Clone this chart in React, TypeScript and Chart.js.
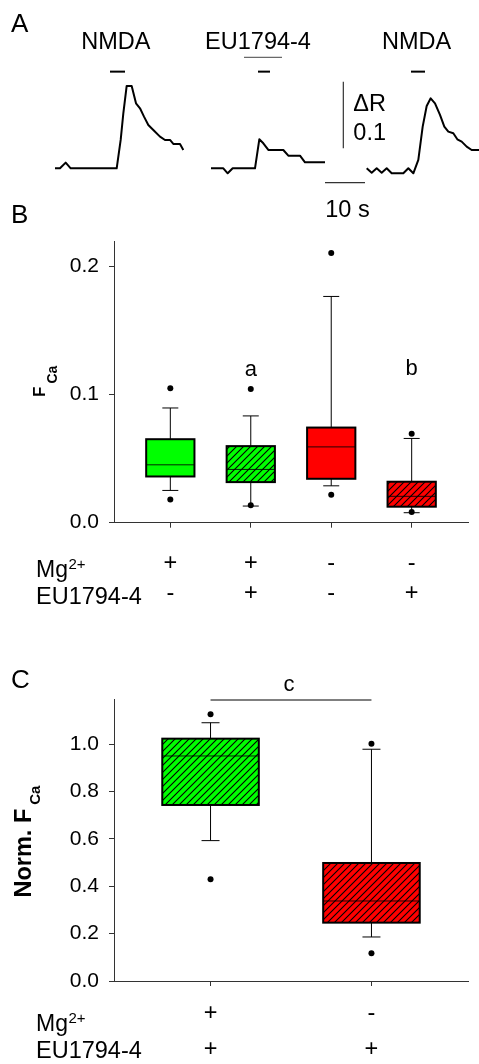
import React, { useEffect, useRef } from 'react';
import { Chart, registerables } from 'chart.js';

Chart.register(...registerables);

const FONT = "'Liberation Sans', Arial, Helvetica, sans-serif";
const AXIS = '#333333';
const GREEN = '#00ff00';
const RED = '#ff0000';

// ---------- Panel A: example ratio traces (time in s, ΔR) ----------
const trace1Time = [0, 1.25, 2.67, 3.92, 15.42, 16.42, 17.08, 17.92, 19.17, 20.25, 21.25, 22.25, 23.33, 24.58, 26.25, 27.5, 28.75, 29.58, 31.25, 32.08];
const trace1Ratio = [0, 0, 0.0085, 0, 0, 0.0425, 0.0825, 0.1235, 0.1235, 0.0975, 0.09, 0.0775, 0.065, 0.0575, 0.0475, 0.0425, 0.0425, 0.0365, 0.0365, 0.0275];
const trace2Time = [39, 42.08, 43.17, 44.42, 50, 51.08, 52.08, 53.33, 57.08, 58.33, 61.25, 62.5, 67.5];
const trace2Ratio = [0, 0, -0.0075, 0, 0, 0.0435, 0.0375, 0.0275, 0.0275, 0.019, 0.019, 0.009, 0.009];
const trace3Time = [77.92, 79.17, 80.42, 81.67, 82.92, 84.17, 87.08, 88.33, 89.58, 90.83, 91.92, 92.92, 93.92, 95, 96.25, 97.33, 98.33, 99.58, 100.58, 101.67, 102.92, 104.17, 106];
const trace3Ratio = [0, -0.0065, 0, -0.0065, 0, -0.0075, -0.0075, 0, -0.0075, 0.0125, 0.0625, 0.0935, 0.105, 0.0975, 0.08, 0.0625, 0.055, 0.0525, 0.0435, 0.04, 0.0325, 0.0275, 0.0275];
const stimulusLabels = ['NMDA', 'EU1794-4', 'NMDA'];
const stimulusLabelTime = [15.2, 50.75, 90.4];
const stimulusStart = [13.75, 50.75, 89];
const stimulusEnd = [17.5, 53.75, 92.5];
const stimulusLevel = 0.145;
const labelLevel = 0.1785;
const underlineTime = [47.25, 56.75];
const underlineLevel = 0.1665;
const scaleBarTime = [67.5, 77.5]; // 10 s
const scaleBarTimeLevel = -0.0216;
const scaleBarRatio = [0.03, 0.13]; // ΔR 0.1
const scaleBarRatioAt = 72.08;

// ---------- Panel B: F_Ca box plots ----------
const groupPos = [1, 2, 3, 4];
const mgRowB = ['+', '+', '-', '-'];
const euRowB = ['-', '+', '-', '+'];
const fcaWhiskerLow = [0.0252, 0.013, 0.0288, 0.0078];
const fcaQ1 = [0.0361, 0.0317, 0.0343, 0.0125];
const fcaMedian = [0.0452, 0.0416, 0.0592, 0.0206];
const fcaQ3 = [0.0652, 0.0598, 0.0743, 0.032];
const fcaWhiskerHigh = [0.0896, 0.0834, 0.1767, 0.0658];
const fcaOutlierLow = [0.0182, 0.0136, 0.0218, 0.0083];
const fcaOutlierHigh = [0.105, 0.1045, 0.2107, 0.0694];
const fcaColor = [GREEN, GREEN, RED, RED];
const fcaHatched = [false, true, false, true];
const fcaTicks = [0, 0.1, 0.2];
const fcaMarks = ['a', 'b'];
const fcaMarkPos = [2, 4];
const fcaMarkLevel = [0.1143, 0.115];

// ---------- Panel C: normalised F_Ca ----------
const normPos = [1, 2];
const mgRowC = ['+', '-'];
const euRowC = ['+', '+'];
const normWhiskerLow = [0.593, 0.186];
const normQ1 = [0.7436, 0.2465];
const normMedian = [0.9506, 0.338];
const normQ3 = [1.0237, 0.4985];
const normWhiskerHigh = [1.091, 0.979];
const normOutlierLow = [0.43, 0.117];
const normOutlierHigh = [1.127, 1.0025];
const normColor = [GREEN, RED];
const normHatched = [true, true];
const normTicks = [0, 0.2, 0.4, 0.6, 0.8, 1.0];
const normBracket = [1, 2];
const normBracketLevel = 1.187;
const normMarkLevel = 1.2265;

const patternCache: Record<string, CanvasPattern | null> = {};
function hatch(ctx: CanvasRenderingContext2D, color: string) {
  const c = document.createElement('canvas');
  const s = 7;
  c.width = s;
  c.height = s;
  const g = c.getContext('2d')!;
  g.fillStyle = color;
  g.fillRect(0, 0, s, s);
  g.strokeStyle = '#000';
  g.lineWidth = 1.1;
  g.beginPath();
  g.moveTo(-1, s + 1);
  g.lineTo(s + 1, -1);
  g.moveTo(-1, 1);
  g.lineTo(1, -1);
  g.moveTo(s - 1, s + 1);
  g.lineTo(s + 1, s - 1);
  g.stroke();
  return ctx.createPattern(c, 'repeat');
}

type BoxStats = {
  pos: number[]; lo: number[]; q1: number[]; med: number[]; q3: number[]; hi: number[];
  color: string[]; hatched: boolean[]; cap: number;
};

function boxPlugin(stats: BoxStats) {
  return {
    id: 'boxes',
    beforeDatasetsDraw(chart: any) {
      const { ctx, scales } = chart;
      const x = scales.x, y = scales.y;
      const half = 0.3;
      ctx.save();
      stats.pos.forEach((p, i) => {
        const xc = x.getPixelForValue(p);
        const xl = x.getPixelForValue(p - half);
        const xr = x.getPixelForValue(p + half);
        const yLo = y.getPixelForValue(stats.lo[i]);
        const yQ1 = y.getPixelForValue(stats.q1[i]);
        const yMed = y.getPixelForValue(stats.med[i]);
        const yQ3 = y.getPixelForValue(stats.q3[i]);
        const yHi = y.getPixelForValue(stats.hi[i]);
        ctx.strokeStyle = '#000';
        ctx.lineWidth = 1;
        ctx.beginPath();
        ctx.moveTo(xc, yHi); ctx.lineTo(xc, yQ3);
        ctx.moveTo(xc, yQ1); ctx.lineTo(xc, yLo);
        ctx.moveTo(xc - stats.cap / 2, yHi); ctx.lineTo(xc + stats.cap / 2, yHi);
        ctx.moveTo(xc - stats.cap / 2, yLo); ctx.lineTo(xc + stats.cap / 2, yLo);
        ctx.stroke();
        ctx.fillStyle = stats.color[i];
        ctx.fillRect(xl, yQ3, xr - xl, yQ1 - yQ3);
        if (stats.hatched[i]) {
          const key = stats.color[i];
          if (!patternCache[key]) patternCache[key] = hatch(ctx, key);
          ctx.fillStyle = patternCache[key];
          ctx.fillRect(xl, yQ3, xr - xl, yQ1 - yQ3);
        }
        ctx.lineWidth = 1;
        ctx.strokeStyle = 'rgba(0,0,0,0.85)';
        ctx.beginPath();
        ctx.moveTo(xl, yMed); ctx.lineTo(xr, yMed);
        ctx.stroke();
        ctx.lineWidth = 2;
        ctx.strokeStyle = '#000';
        ctx.strokeRect(xl, yQ3, xr - xl, yQ1 - yQ3);
      });
      ctx.restore();
    },
  };
}

type RowText = {
  pos: number[]; mg: string[]; eu: string[];
  mgBase: number; euBase: number; mgSignBase: number; euSignBase: number;
};

function drawRows(chart: any, r: RowText) {
  const { ctx, scales } = chart;
  ctx.save();
  ctx.fillStyle = '#000';
  ctx.textBaseline = 'alphabetic';
  ctx.textAlign = 'left';
  ctx.font = `23px ${FONT}`;
  ctx.fillText('Mg', 36, r.mgBase);
  const w = ctx.measureText('Mg').width;
  ctx.font = `15px ${FONT}`;
  ctx.fillText('2+', 36 + w + 0.5, r.mgBase - 7.5);
  ctx.font = `23.5px ${FONT}`;
  ctx.fillText('EU1794-4', 36, r.euBase);
  ctx.textAlign = 'center';
  r.pos.forEach((p, i) => {
    const xc = scales.x.getPixelForValue(p);
    ctx.fillText(r.mg[i], xc, r.mgSignBase);
    ctx.fillText(r.eu[i], xc, r.euSignBase);
  });
  ctx.restore();
}

function drawYTitle(ctx: CanvasRenderingContext2D, main: string, mainSize: number, subSize: number,
  x: number, yStart: number, subShift: number, gap: number) {
  ctx.save();
  ctx.translate(x, yStart);
  ctx.rotate(-Math.PI / 2);
  ctx.fillStyle = '#000';
  ctx.textAlign = 'left';
  ctx.textBaseline = 'alphabetic';
  ctx.font = `bold ${mainSize}px ${FONT}`;
  ctx.fillText(main, 0, 0);
  const w = ctx.measureText(main).width;
  ctx.font = `bold ${subSize}px ${FONT}`;
  ctx.fillText('Ca', w + gap, subShift);
  ctx.restore();
}

function axisScales(xMin: number, xMax: number, xTicks: number[], yMax: number, yTicks: number[], xAxisHeight: number) {
  const grid = { drawOnChartArea: false, drawTicks: true, tickLength: 5, color: AXIS, lineWidth: 1 };
  const border = { display: true, color: AXIS, width: 1 };
  return {
    x: {
      type: 'linear', min: xMin, max: xMax,
      afterBuildTicks: (s: any) => { s.ticks = xTicks.map((v) => ({ value: v })); },
      afterFit: (s: any) => { s.height = xAxisHeight; },
      ticks: { display: false },
      grid, border,
    },
    y: {
      type: 'linear', min: 0, max: yMax,
      afterBuildTicks: (s: any) => { s.ticks = yTicks.map((v) => ({ value: v })); },
      afterFit: (s: any) => { s.width = 114; },
      ticks: { font: { size: 21, family: FONT }, color: '#000', padding: 10, callback: (v: any) => Number(v).toFixed(1) },
      grid, border,
    },
  };
}

function line(xs: number[], ys: number[], color = '#000', width = 2) {
  return {
    data: xs.map((t, i) => ({ x: t, y: ys[i] })),
    borderColor: color, borderWidth: width, pointRadius: 0, tension: 0, fill: false,
    borderJoinStyle: 'round', borderCapStyle: 'butt',
  };
}

function makePanelA(): any {
  const datasets: any[] = [
    line(trace1Time, trace1Ratio, '#000', 2),
    line(trace2Time, trace2Ratio, '#000', 2),
    line(trace3Time, trace3Ratio, '#000', 2),
    ...stimulusStart.map((s, i) => line([s, stimulusEnd[i]], [stimulusLevel, stimulusLevel], '#000', 2)),
    line(underlineTime, [underlineLevel, underlineLevel], '#444', 1),
    line(scaleBarTime, [scaleBarTimeLevel, scaleBarTimeLevel], '#333', 1.2),
    line([scaleBarRatioAt, scaleBarRatioAt], scaleBarRatio, '#333', 1.2),
  ];
  return {
    type: 'line',
    data: { datasets },
    options: {
      responsive: false, animation: false, events: [],
      layout: { padding: 0, autoPadding: false },
      plugins: { legend: { display: false }, tooltip: { enabled: false } },
      scales: {
        x: { type: 'linear', display: false, min: -13.75, max: 106 },
        y: { type: 'linear', display: false, min: -0.09255, max: 0.25245 },
      },
    },
    plugins: [{
      id: 'textA',
      afterDraw(chart: any) {
        const { ctx, scales: { x, y } } = chart;
        ctx.save();
        ctx.fillStyle = '#000';
        ctx.textBaseline = 'alphabetic';
        ctx.font = `26px ${FONT}`;
        ctx.textAlign = 'left';
        ctx.fillText('A', 11, 31.7);
        ctx.font = `23.5px ${FONT}`;
        ctx.textAlign = 'center';
        stimulusLabels.forEach((l, i) => ctx.fillText(l, x.getPixelForValue(stimulusLabelTime[i]), y.getPixelForValue(labelLevel)));
        ctx.textAlign = 'left';
        const tx = x.getPixelForValue(scaleBarRatioAt) + 10;
        ctx.fillText('ΔR', tx, y.getPixelForValue(0.0864));
        ctx.fillText('0.1', tx, y.getPixelForValue(0.0425));
        ctx.textAlign = 'center';
        ctx.fillText('10 s', x.getPixelForValue((scaleBarTime[0] + scaleBarTime[1]) / 2) + 2.5, y.getPixelForValue(-0.0726));
        ctx.restore();
      },
    }],
  };
}

function outliers(pos: number[], low: number[], high: number[]) {
  return {
    data: [...pos.map((p, i) => ({ x: p, y: low[i] })), ...pos.map((p, i) => ({ x: p, y: high[i] }))],
    pointRadius: 3, pointBackgroundColor: '#000', pointBorderWidth: 0, showLine: false,
  };
}

function makePanelB(): any {
  return {
    type: 'scatter',
    data: { datasets: [outliers(groupPos, fcaOutlierLow, fcaOutlierHigh)] },
    options: {
      responsive: false, animation: false, events: [],
      layout: { padding: { top: 41, right: 11, left: 0, bottom: 0 }, autoPadding: false },
      plugins: { legend: { display: false }, tooltip: { enabled: false } },
      scales: axisScales(0.3, 4.7, groupPos, 0.22, fcaTicks, 97.3),
    },
    plugins: [
      boxPlugin({ pos: groupPos, lo: fcaWhiskerLow, q1: fcaQ1, med: fcaMedian, q3: fcaQ3, hi: fcaWhiskerHigh, color: fcaColor, hatched: fcaHatched, cap: 16 }),
      {
        id: 'textB',
        afterDraw(chart: any) {
          const { ctx, scales: { x, y } } = chart;
          ctx.save();
          ctx.fillStyle = '#000';
          ctx.font = `26px ${FONT}`;
          ctx.textAlign = 'left';
          ctx.textBaseline = 'alphabetic';
          ctx.fillText('B', 11, 23);
          ctx.font = `22px ${FONT}`;
          ctx.textAlign = 'center';
          fcaMarks.forEach((m, i) => ctx.fillText(m, x.getPixelForValue(fcaMarkPos[i]), y.getPixelForValue(fcaMarkLevel[i])));
          ctx.restore();
          drawYTitle(ctx, 'F', 17, 14, 45, 197, 12, 3);
          drawRows(chart, { pos: groupPos, mg: mgRowB, eu: euRowB, mgBase: 376.5, euBase: 404, mgSignBase: 369.5, euSignBase: 399.5 });
        },
      },
    ],
  };
}

function makePanelC(): any {
  return {
    type: 'scatter',
    data: { datasets: [outliers(normPos, normOutlierLow, normOutlierHigh)] },
    options: {
      responsive: false, animation: false, events: [],
      layout: { padding: { top: 79.3, right: 11, left: 0, bottom: 0 }, autoPadding: false },
      plugins: { legend: { display: false }, tooltip: { enabled: false } },
      scales: axisScales(0.4, 2.6, normPos, 1.19, normTicks, 83),
    },
    plugins: [
      boxPlugin({ pos: normPos, lo: normWhiskerLow, q1: normQ1, med: normMedian, q3: normQ3, hi: normWhiskerHigh, color: normColor, hatched: normHatched, cap: 18 }),
      {
        id: 'textC',
        afterDraw(chart: any) {
          const { ctx, scales: { x, y } } = chart;
          ctx.save();
          ctx.fillStyle = '#000';
          ctx.font = `26px ${FONT}`;
          ctx.textAlign = 'left';
          ctx.textBaseline = 'alphabetic';
          ctx.fillText('C', 11, 68);
          ctx.strokeStyle = '#000';
          ctx.lineWidth = 1;
          const by = y.getPixelForValue(normBracketLevel);
          ctx.beginPath();
          ctx.moveTo(x.getPixelForValue(normBracket[0]), by);
          ctx.lineTo(x.getPixelForValue(normBracket[1]), by);
          ctx.stroke();
          ctx.font = `22px ${FONT}`;
          ctx.textAlign = 'center';
          ctx.fillText('c', x.getPixelForValue((normBracket[0] + normBracket[1]) / 2) - 2, y.getPixelForValue(normMarkLevel));
          ctx.restore();
          drawYTitle(ctx, 'Norm. F', 23.5, 15, 31, 277.5, 8.5, 4);
          drawRows(chart, { pos: normPos, mg: mgRowC, eu: euRowC, mgBase: 410.7, euBase: 438.3, mgSignBase: 400, euSignBase: 436 });
        },
      },
    ],
  };
}

function Panel({ top, height, make }: { top: number; height: number; make: () => any }) {
  const ref = useRef<HTMLCanvasElement>(null);
  useEffect(() => {
    const chart = new Chart(ref.current as HTMLCanvasElement, make());
    return () => chart.destroy();
  }, []);
  return (
    <canvas
      ref={ref}
      width={479}
      height={height}
      style={{ position: 'absolute', left: 0, top, width: 479, height, display: 'block' }}
    />
  );
}

export default function App() {
  useEffect(() => {
    document.body.style.margin = '0';
  }, []);
  return (
    <div style={{ position: 'absolute', left: 0, top: 0, width: 479, height: 1064, background: '#fff', overflow: 'hidden' }}>
      <Panel top={0} height={230} make={makePanelA} />
      <Panel top={200} height={420} make={makePanelB} />
      <Panel top={620} height={444} make={makePanelC} />
    </div>
  );
}
